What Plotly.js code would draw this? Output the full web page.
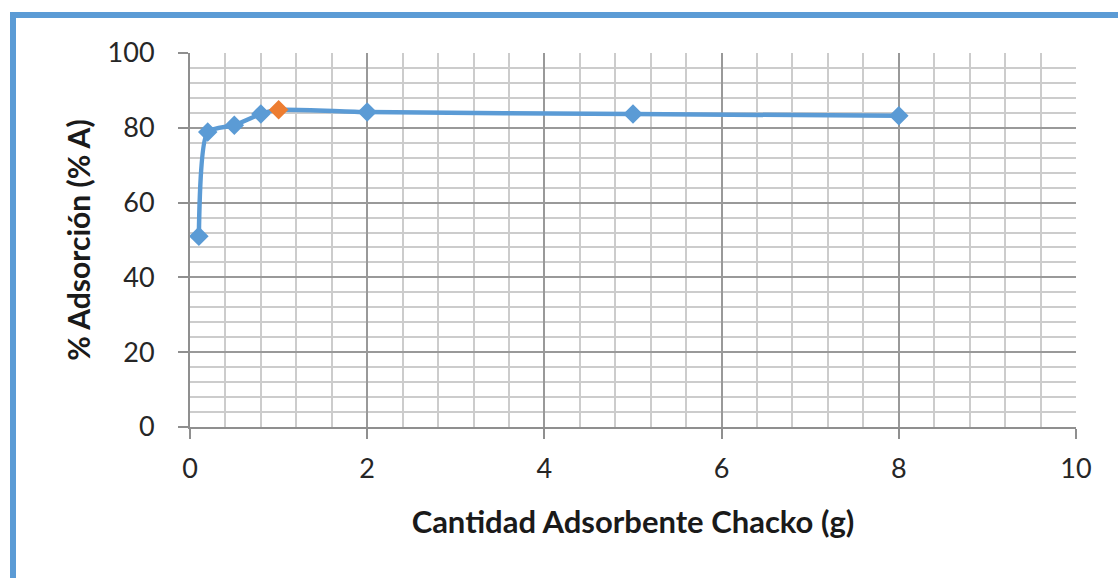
<!DOCTYPE html>
<html>
<head>
<meta charset="utf-8">
<script src="https://cdn.plot.ly/plotly-3.0.1.min.js"></script>
<style>
  html, body { margin: 0; padding: 0; background: #fff; }
  #frame { position: absolute; left: 10px; top: 12px; width: 1120px; height: 580px;
           border: 6px solid #5B9BD5; box-sizing: border-box; }
  #chart { position: absolute; left: 0; top: 0; width: 1118px; height: 578px; }
</style>
</head>
<body>
<div id="chart"></div>
<div id="frame"></div>
<script>
// Adsorbent mass (g) vs adsorption percentage
const cantidad = [0.1, 0.2, 0.5, 0.8, 1, 2, 5, 8];
const adsorcion = [51.0, 78.9, 80.7, 83.7, 84.8, 84.2, 83.7, 83.2];
const markerColors = ['#5B9BD5', '#5B9BD5', '#5B9BD5', '#5B9BD5', '#ED7D31', '#5B9BD5', '#5B9BD5', '#5B9BD5'];

const font = 'Lato, Open Sans, sans-serif';

// minor grid positions: five divisions between consecutive major ticks
function minorVals(max, major, parts) {
  const out = [];
  const step = major / parts;
  for (let i = 1; i * step < max; i++) {
    if (i % parts !== 0) out.push(+(i * step).toFixed(6));
  }
  return out;
}

const trace = {
  x: cantidad,
  y: adsorcion,
  type: 'scatter',
  mode: 'lines+markers',
  line: { color: '#5B9BD5', width: 4.5, shape: 'spline', smoothing: 0.6 },
  marker: { symbol: 'diamond', size: 15, color: markerColors, line: { width: 0 } },
  hoverinfo: 'x+y'
};

const axisCommon = {
  tickmode: 'linear',
  ticks: 'outside',
  ticklen: 10,
  tickcolor: '#8f8f8f',
  tickwidth: 2,
  showline: true,
  linecolor: '#8f8f8f',
  linewidth: 2,
  showgrid: true,
  gridcolor: '#999999',
  gridwidth: 2,
  zeroline: false,
  tickfont: { family: font, size: 27, color: '#262626' },
  fixedrange: true
};

const layout = {
  width: 1118,
  height: 578,
  margin: { l: 190, r: 42, t: 53, b: 151 },
  paper_bgcolor: '#ffffff',
  plot_bgcolor: '#ffffff',
  showlegend: false,
  xaxis: Object.assign({}, axisCommon, {
    range: [0, 10],
    tick0: 0,
    dtick: 2,
    ticklabelstandoff: 7,
    minor: { tickmode: 'array', tickvals: minorVals(10, 2, 5), showgrid: true, gridcolor: '#cccccc', gridwidth: 2, ticks: '' },
    title: { text: '<b>Cantidad Adsorbente Chacko (g)</b>', font: { family: font, size: 31, color: '#1a1a1a' }, standoff: 28 }
  }),
  yaxis: Object.assign({}, axisCommon, {
    range: [0, 100],
    tick0: 0,
    dtick: 20,
    ticklabelstandoff: 18,
    minor: { tickmode: 'array', tickvals: minorVals(100, 20, 5), showgrid: true, gridcolor: '#cccccc', gridwidth: 2, ticks: '' },
    title: { text: '<b>% Adsorción (% A)</b>', font: { family: font, size: 30, color: '#1a1a1a' }, standoff: 8 }
  })
};

Plotly.newPlot('chart', [trace], layout, { staticPlot: true, displayModeBar: false });
</script>
</body>
</html>
